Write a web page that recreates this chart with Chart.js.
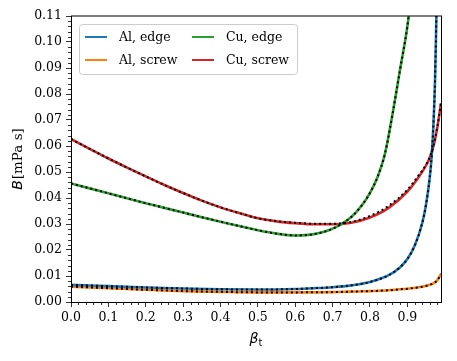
<!DOCTYPE html>
<html>
<head>
<meta charset="utf-8">
<script src="https://cdn.jsdelivr.net/npm/chart.js@4.4.1/dist/chart.umd.min.js"></script>
<style>
  html, body { margin: 0; padding: 0; background: #fff; }
  #wrap { width: 457px; height: 361px; }
</style>
</head>
<body>
<div id="wrap"><canvas id="dragChart" width="457" height="361"></canvas></div>
<script>
// tick labels
const xTicks = [0.0, 0.1, 0.2, 0.3, 0.4, 0.5, 0.6, 0.7, 0.8, 0.9];
const yTicks = [0.00, 0.01, 0.02, 0.03, 0.04, 0.05, 0.06, 0.07, 0.08, 0.09, 0.10, 0.11];

// Al, edge
const alEdgeBeta = [0, 0.1, 0.2, 0.3, 0.4, 0.5, 0.6, 0.65, 0.7, 0.75, 0.8, 0.85, 0.88, 0.9, 0.92, 0.94, 0.95, 0.96, 0.965, 0.97, 0.974, 0.977, 0.98];
const alEdgeB    = [0.0066, 0.0061, 0.0056, 0.0052, 0.0049, 0.0048, 0.0050, 0.0053, 0.0057, 0.0064, 0.0077, 0.0103, 0.0133, 0.0165, 0.0218, 0.0305, 0.0375, 0.0480, 0.0560, 0.0690, 0.0850, 0.1050, 0.1300];

// Al, screw
const alScrewBeta = [0, 0.1, 0.2, 0.3, 0.4, 0.5, 0.6, 0.7, 0.75, 0.8, 0.85, 0.88, 0.9, 0.94, 0.96, 0.97, 0.98, 0.99];
const alScrewB    = [0.0059, 0.0053, 0.0047, 0.0042, 0.0039, 0.0037, 0.0037, 0.0038, 0.0040, 0.0042, 0.0045, 0.0049, 0.0051, 0.0059, 0.0066, 0.0072, 0.0083, 0.0108];

// Cu, edge
const cuEdgeBeta = [0, 0.05, 0.1, 0.15, 0.2, 0.25, 0.3, 0.35, 0.4, 0.45, 0.5, 0.55, 0.6, 0.65, 0.7, 0.75, 0.78, 0.8, 0.82, 0.84, 0.86, 0.88, 0.9, 0.91];
const cuEdgeB    = [0.0456, 0.0437, 0.0418, 0.0399, 0.0380, 0.0362, 0.0344, 0.0326, 0.0309, 0.0292, 0.0276, 0.0263, 0.0256, 0.0261, 0.0282, 0.0327, 0.0375, 0.0420, 0.0480, 0.0570, 0.0720, 0.0890, 0.1060, 0.1180];

// Cu, screw (solid curve and its dotted fit)
const cuScrewBeta = [0, 0.05, 0.1, 0.15, 0.2, 0.25, 0.3, 0.35, 0.4, 0.45, 0.5, 0.55, 0.6, 0.65, 0.7, 0.75, 0.8, 0.85, 0.9, 0.93, 0.95, 0.96, 0.97, 0.98, 0.99];
const cuScrewB    = [0.0627, 0.0589, 0.0552, 0.0517, 0.0483, 0.0450, 0.0419, 0.0390, 0.0364, 0.0342, 0.0322, 0.0310, 0.0303, 0.0299, 0.0299, 0.0305, 0.0325, 0.0362, 0.0425, 0.0480, 0.0525, 0.0555, 0.0600, 0.0670, 0.0765];
const cuScrewFitB = [0.0627, 0.0589, 0.0552, 0.0517, 0.0483, 0.0450, 0.0419, 0.0390, 0.0364, 0.0342, 0.0322, 0.0311, 0.0305, 0.0301, 0.0301, 0.0308, 0.0331, 0.0370, 0.0432, 0.0487, 0.0528, 0.0557, 0.0602, 0.0672, 0.0765];

const seriesLabels = ['Al, edge', 'Al, screw', 'Cu, edge', 'Cu, screw'];
const seriesColors = ['#1f77b4', '#ff7f0e', '#2ca02c', '#d62728'];

const serifFont = 'DejaVu Serif';
const fontSize = 12.5;
const titleSize = 14;

function toPoints(betas, values) {
    return betas.map((b, i) => ({ x: b, y: values[i] }));
}

function solidLine(label, color, betas, values) {
    return {
        label: label,
        data: toPoints(betas, values),
        borderColor: color,
        borderWidth: 2.6,
        pointRadius: 0,
        cubicInterpolationMode: 'monotone',
        order: 2
    };
}

function dottedLine(betas, values) {
    return {
        label: '',
        data: toPoints(betas, values),
        borderColor: '#000',
        borderWidth: 2,
        borderDash: [2, 3],
        borderCapStyle: 'butt',
        pointRadius: 0,
        cubicInterpolationMode: 'monotone',
        order: 1
    };
}

// minor ticks, frame, legend and axis titles
const decorPlugin = {
    id: 'decor',
    afterDraw(chart) {
        const ctx = chart.ctx;
        const area = chart.chartArea;
        const xs = chart.scales.x;
        const ys = chart.scales.y;
        ctx.save();

        // minor ticks
        ctx.strokeStyle = '#000';
        ctx.lineWidth = 0.8;
        ctx.beginPath();
        for (let k = 1; k < 50; k++) {
            if (k % 5 === 0) continue;
            const px = Math.round(xs.getPixelForValue(k * 0.02)) + 0.5;
            ctx.moveTo(px, area.bottom);
            ctx.lineTo(px, area.bottom + 3);
        }
        for (let k = 1; k < 55; k++) {
            if (k % 5 === 0) continue;
            const py = Math.round(ys.getPixelForValue(k * 0.002)) + 0.5;
            ctx.moveTo(area.left, py);
            ctx.lineTo(area.left - 3, py);
        }
        ctx.stroke();

        // frame
        ctx.lineWidth = 1;
        ctx.strokeStyle = '#000';
        ctx.strokeRect(area.left + 0.5, area.top, area.right - area.left, area.bottom - area.top + 0.5);

        // legend
        const boxX = 79, boxY = 24, boxW = 218, boxH = 50;
        ctx.fillStyle = 'rgba(255,255,255,0.8)';
        ctx.strokeStyle = '#cccccc';
        ctx.lineWidth = 1;
        ctx.beginPath();
        ctx.roundRect(boxX + 0.5, boxY + 0.5, boxW, boxH, 3);
        ctx.fill();
        ctx.stroke();

        const cols = [85, 192];
        const rows = [37, 60];
        ctx.font = fontSize + 'px "' + serifFont + '"';
        ctx.textBaseline = 'middle';
        ctx.textAlign = 'left';
        seriesLabels.forEach((label, i) => {
            const cx = cols[Math.floor(i / 2)];
            const cy = rows[i % 2];
            ctx.strokeStyle = seriesColors[i];
            ctx.lineWidth = 2;
            ctx.beginPath();
            ctx.moveTo(cx, cy);
            ctx.lineTo(cx + 22, cy);
            ctx.stroke();
            ctx.fillStyle = '#000';
            ctx.fillText(label, cx + 34, cy + 1);
        });

        // y axis title: B [mPa s]
        const italic = 'italic ' + titleSize + 'px "DejaVu Sans"';
        const serif = (titleSize - 0.5) + 'px "' + serifFont + '"';
        ctx.save();
        ctx.translate(22, (area.top + area.bottom) / 2);
        ctx.rotate(-Math.PI / 2);
        ctx.textBaseline = 'alphabetic';
        ctx.font = italic;
        const wB = ctx.measureText('B').width;
        ctx.font = serif;
        const wRest = ctx.measureText('[mPa s]').width;
        const start = -(wB + 1 + wRest) / 2;
        ctx.font = italic;
        ctx.fillText('B', start, 0);
        ctx.font = serif;
        ctx.fillText('[mPa s]', start + wB + 1, 0);
        ctx.restore();

        // x axis title: beta_t
        ctx.textBaseline = 'alphabetic';
        ctx.font = italic;
        const wBeta = ctx.measureText('\u03b2').width;
        ctx.font = '10px "DejaVu Sans"';
        const wT = ctx.measureText('t').width;
        const bx = (area.left + area.right) / 2 - (wBeta + wT) / 2;
        ctx.font = italic;
        ctx.fillText('\u03b2', bx, 343);
        ctx.font = '10px "DejaVu Sans"';
        ctx.fillText('t', bx + wBeta, 346);

        ctx.restore();
    }
};

const ctx = document.getElementById('dragChart').getContext('2d');
new Chart(ctx, {
    type: 'line',
    data: {
        datasets: [
            solidLine(seriesLabels[0], seriesColors[0], alEdgeBeta, alEdgeB),
            solidLine(seriesLabels[1], seriesColors[1], alScrewBeta, alScrewB),
            solidLine(seriesLabels[2], seriesColors[2], cuEdgeBeta, cuEdgeB),
            solidLine(seriesLabels[3], seriesColors[3], cuScrewBeta, cuScrewB),
            dottedLine(alEdgeBeta, alEdgeB),
            dottedLine(alScrewBeta, alScrewB),
            dottedLine(cuEdgeBeta, cuEdgeB),
            dottedLine(cuScrewBeta, cuScrewFitB)
        ]
    },
    options: {
        responsive: false,
        animation: false,
        devicePixelRatio: 1,
        layout: { padding: { left: 0, top: 16, right: 16, bottom: 0 } },
        plugins: { legend: { display: false }, tooltip: { enabled: false } },
        scales: {
            x: {
                type: 'linear',
                min: 0,
                max: 0.99,
                afterBuildTicks: s => { s.ticks = xTicks.map(v => ({ value: v })); },
                afterFit: s => { s.height = 59; },
                ticks: {
                    padding: 3,
                    color: '#000',
                    font: { family: serifFont, size: fontSize },
                    callback: v => v.toFixed(1)
                },
                grid: { drawOnChartArea: false, tickLength: 5, color: '#000', lineWidth: 0.8 },
                border: { display: false }
            },
            y: {
                type: 'linear',
                min: 0,
                max: 0.11,
                afterBuildTicks: s => { s.ticks = yTicks.map(v => ({ value: v })); },
                afterFit: s => { s.width = 71; },
                ticks: {
                    padding: 4,
                    color: '#000',
                    font: { family: serifFont, size: fontSize },
                    callback: v => v.toFixed(2)
                },
                grid: { drawOnChartArea: false, tickLength: 5, color: '#000', lineWidth: 0.8 },
                border: { display: false }
            }
        }
    },
    plugins: [decorPlugin]
});
</script>
</body>
</html>
